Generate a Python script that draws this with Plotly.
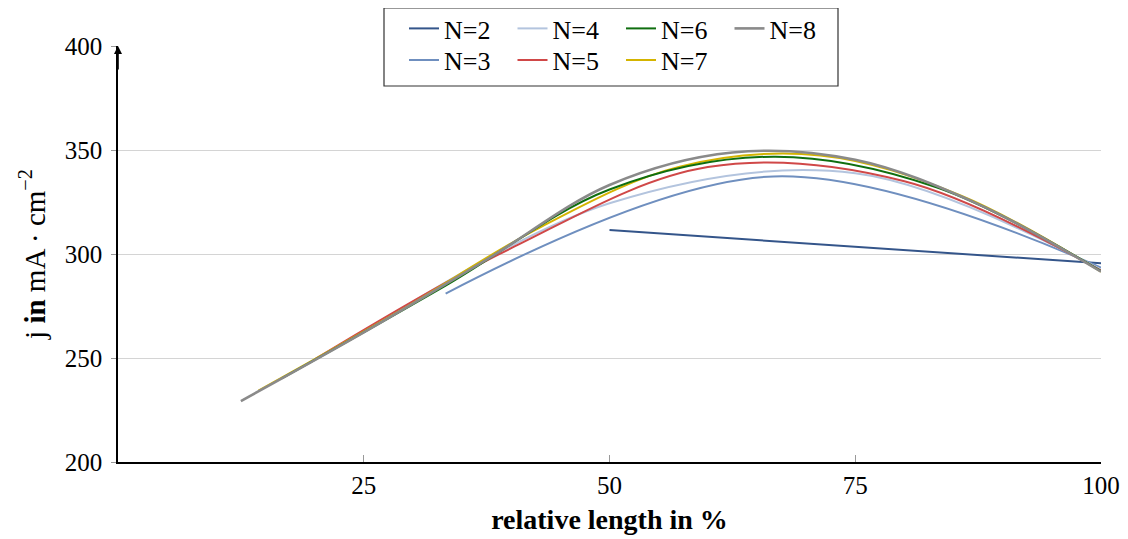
import plotly.graph_objects as go

# ---- data ----
x_n2 = [50, 100]
y_n2 = [311.5, 295.5]

x_n3 = [33.33, 66.67, 100]
y_n3 = [281.0, 337.3, 293.5]

x_n4 = [25, 50, 75, 100]
y_n4 = [262.3, 324.4, 338.8, 292.5]

x_n5 = [20, 40, 60, 80, 100]
y_n5 = [249.3, 302.8, 341.8, 335.0, 292.0]

x_n6 = [16.67, 33.33, 50, 66.67, 83.33, 100]
y_n6 = [240.2, 284.8, 331.0, 346.8, 332.0, 291.8]

x_n7 = [14.29, 28.57, 42.86, 57.14, 71.43, 85.71, 100]
y_n7 = [234.3, 272.4, 312.6, 342.0, 347.4, 328.2, 291.5]

x_n8 = [12.5, 25, 37.5, 50, 62.5, 75, 87.5, 100]
y_n8 = [229.3, 262.3, 297.3, 333.2, 348.8, 345.3, 324.0, 291.5]

x_ticks = [25, 50, 75, 100]
y_ticks = [200, 250, 300, 350, 400]

series = [
    ("N=2", x_n2, y_n2, "#34558a", 2.0, "legend", 1),
    ("N=4", x_n4, y_n4, "#b3c4de", 2.0, "legend", 2),
    ("N=6", x_n6, y_n6, "#0f6e0f", 2.0, "legend", 3),
    ("N=8", x_n8, y_n8, "#8a8a8a", 2.6, "legend", 4),
    ("N=3", x_n3, y_n3, "#6f8fbf", 2.0, "legend2", 1),
    ("N=5", x_n5, y_n5, "#d04848", 2.0, "legend2", 2),
    ("N=7", x_n7, y_n7, "#d4b400", 2.0, "legend2", 3),
]

FONT = "Liberation Serif, Times New Roman, serif"

fig = go.Figure()
draw_order = ["N=2", "N=3", "N=4", "N=5", "N=7", "N=6", "N=8"]
lookup = {s[0]: s for s in series}
for name in draw_order:
    _, xs, ys, col, w, lg, rank = lookup[name]
    fig.add_trace(go.Scatter(
        x=xs, y=ys, mode="lines", name=name,
        line=dict(color=col, width=w, shape="spline", smoothing=1.0),
        legend=lg, legendrank=rank,
    ))

# the page has an 8px body margin; compensate so the plot lands where the reference has it
OFF = 8
W, H = 1128 - OFF, 539 - OFF
PL, PR, PT, PB = 118, 1101, 46, 462   # plot area in page pixels
L = PL - OFF
T = PT - OFF
pw = PR - PL
ph = PB - PT
R = W - L - pw
B = H - T - ph

def px_x(p):
    return (p - PL) / pw

def px_y(p):
    return (PB - p) / ph

fig.update_layout(
    width=W, height=H, autosize=False,
    margin=dict(l=L, r=R, t=T, b=B, pad=0, autoexpand=False),
    paper_bgcolor="white", plot_bgcolor="white",
    font=dict(family=FONT, size=25, color="black"),
    showlegend=True,
    legend=dict(
        orientation="h", x=px_x(404), y=px_y(5), xanchor="left", yanchor="top",
        bgcolor="rgba(0,0,0,0)", borderwidth=0,
        entrywidth=63.5, entrywidthmode="pixels",
        font=dict(family=FONT, size=26), traceorder="normal",
    ),
    legend2=dict(
        orientation="h", x=px_x(404), y=px_y(36.5), xanchor="left", yanchor="top",
        bgcolor="rgba(0,0,0,0)", borderwidth=0,
        entrywidth=63.5, entrywidthmode="pixels",
        font=dict(family=FONT, size=26), traceorder="normal",
    ),
    xaxis=dict(
        range=[0, 100], tickvals=x_ticks, ticktext=[str(v) for v in x_ticks],
        automargin=False,
        showgrid=False, zeroline=False,
        showline=True, linecolor="black", linewidth=1.6,
        ticks="inside", ticklen=7, tickcolor="#999999", tickwidth=1,
        tickfont=dict(family=FONT, size=25),
        title=dict(text="<b>relative length in %</b>", font=dict(family=FONT, size=28), standoff=12),
    ),
    yaxis=dict(
        range=[200, 400], tickvals=y_ticks, ticktext=[str(v) for v in y_ticks],
        automargin=False,
        showgrid=True, gridcolor="#d4d4d4", gridwidth=1.2, zeroline=False,
        showline=True, linecolor="black", linewidth=1.6,
        ticks="outside", ticklen=5, tickcolor="#999999", tickwidth=1,
        ticklabelstandoff=4,
        tickfont=dict(family=FONT, size=25),
        title=dict(text="j <b>in</b> mA · cm<sup>−2</sup>", font=dict(family=FONT, size=29), standoff=11),
    ),
    shapes=[dict(
        type="rect", xref="paper", yref="paper",
        x0=px_x(384), x1=px_x(838), y0=px_y(86), y1=px_y(8),
        line=dict(color="#333333", width=1.2), fillcolor="white", layer="above",
    )],
    annotations=[dict(
        x=0, y=400, ax=0, ay=388, xref="x", yref="y", axref="x", ayref="y",
        text="", showarrow=True, arrowhead=2, arrowsize=1, arrowwidth=1.6,
        arrowcolor="black",
    )],
)

fig.write_html("out.html")
